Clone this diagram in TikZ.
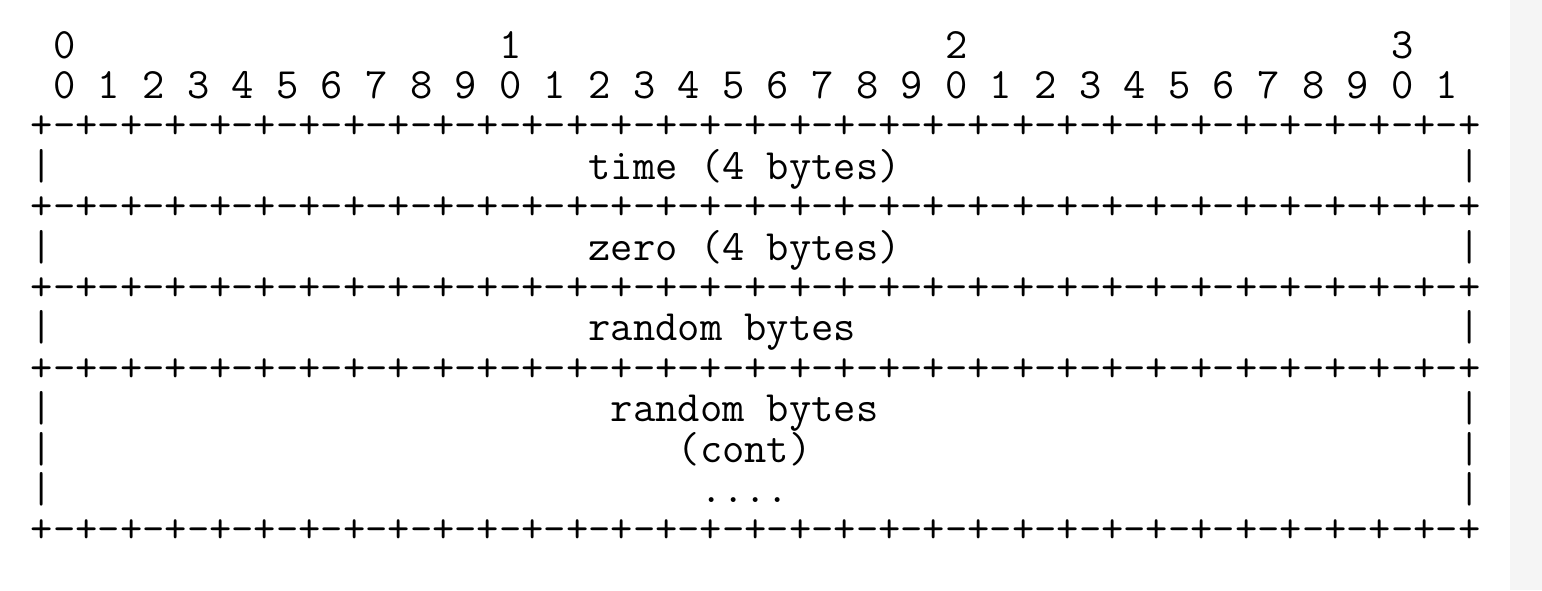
\documentclass[tikz,border=0pt]{standalone}
\newcommand{\rulerow}{+-+-+-+-+-+-+-+-+-+-+-+-+-+-+-+-+-+-+-+-+-+-+-+-+-+-+-+-+-+-+-+-+}
\newlength{\colw}
\settowidth{\colw}{\ttfamily\fontsize{20}{20}\selectfont 0}
\pgfmathsetmacro{\asciisize}{20*11.15/\colw}% font size that gives 11.15pt per column
\begin{document}
\begin{tikzpicture}[x=11.15pt,y=-20.2pt,% one column, one row
    ascii/.style={anchor=base west,inner sep=0pt,outer sep=0pt,
      font=\ttfamily\fontsize{\asciisize}{20.2}\selectfont}]
  \useasboundingbox (-15.5pt,29pt) rectangle (755.5pt,-266pt);
  \fill[black!4] (739.5pt,29pt) rectangle (755.5pt,-266pt);% grey strip at the right

  % bit numbers
  \foreach \t in {0,1,2,3}{%
    \node[ascii] (dec\t) at ({20*\t+1},0) {\t};
  }
  \foreach \i in {0,...,31}{%
    \pgfmathtruncatemacro{\d}{mod(\i,10)}
    \node[ascii] (bit\i) at ({2*\i+1},1) {\d};
  }

  % separator rows and side bars
  \foreach \r in {2,4,6,8,12}{%
    \node[ascii] (rule\r) at (0,\r) {\rulerow};
  }
  \foreach \r in {3,5,7,9,10,11}{%
    \node[ascii] (lbar\r) at (0,\r) {|};
    \node[ascii] (rbar\r) at (64,\r) {|};
  }

  % field names
  \node[ascii] (time)  at (25,3)  {time (4 bytes)};
  \node[ascii] (zero)  at (25,5)  {zero (4 bytes)};
  \node[ascii] (rand)  at (25,7)  {random bytes};
  \node[ascii] (randb) at (26,9)  {random bytes};
  \node[ascii] (cont)  at (29,10) {(cont)};
  \node[ascii] (dots)  at (30,11) {....};
\end{tikzpicture}
\end{document}
